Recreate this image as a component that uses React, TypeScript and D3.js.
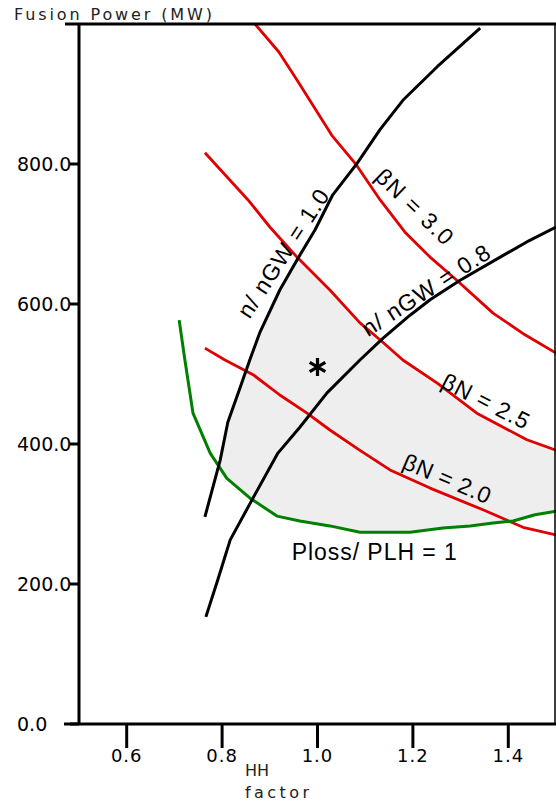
import React from "react";
import * as d3 from "d3";

// ---------- data (HH factor, fusion power MW) ----------
const xTickValues = [0.6, 0.8, 1.0, 1.2, 1.4];
const xTickLabels = ["0.6", "0.8", "1.0", "1.2", "1.4"];
const yTickValues = [0, 200, 400, 600, 800];
const yTickLabels = ["0.0", "200.0", "400.0", "600.0", "800.0"];

const betaN30: [number, number][] = [
  [0.869, 1000], [0.919, 960], [0.957, 920], [1.03, 841], [1.079, 801], [1.131, 749],
  [1.183, 703], [1.236, 667], [1.292, 634], [1.368, 587], [1.435, 556], [1.5, 530],
];
const betaN25: [number, number][] = [
  [0.764, 816], [0.854, 749], [0.9, 710], [0.957, 667], [1.026, 620], [1.089, 573],
  [1.131, 549], [1.179, 520], [1.251, 487], [1.334, 444], [1.439, 406], [1.5, 391],
];
const betaN20: [number, number][] = [
  [0.764, 537], [0.806, 520], [0.865, 499], [0.921, 470], [0.978, 444], [1.026, 420],
  [1.089, 391], [1.152, 363], [1.236, 337], [1.347, 306], [1.431, 281], [1.5, 270],
];
const nGW10: [number, number][] = [
  [0.764, 296], [0.796, 377], [0.812, 431], [0.838, 481], [0.858, 520], [0.879, 559],
  [0.921, 620], [0.957, 663], [0.995, 706], [1.032, 756], [1.083, 801], [1.131, 849],
  [1.179, 891], [1.251, 939], [1.341, 994],
];
const nGW08: [number, number][] = [
  [0.766, 153], [0.791, 206], [0.817, 263], [0.865, 323], [0.917, 387], [0.963, 424],
  [1.02, 473], [1.089, 520], [1.137, 551], [1.194, 584], [1.236, 606], [1.299, 634],
  [1.383, 667], [1.445, 691], [1.5, 710],
];
const plossPLH1: [number, number][] = [
  [0.71, 577], [0.722, 520], [0.739, 444], [0.775, 387], [0.81, 351], [0.858, 323],
  [0.915, 297], [0.963, 290], [1.026, 283], [1.089, 274], [1.194, 274], [1.263, 280],
  [1.32, 283], [1.368, 287], [1.41, 290], [1.456, 299], [1.5, 304],
];
const operatingPoint: [number, number] = [1.0, 510];

const labelTexts = ["n/ nGW = 1.0", "n/ nGW = 0.8", "\u03B2N = 3.0", "\u03B2N = 2.5", "\u03B2N = 2.0", "Ploss/ PLH = 1"];
const labelX = [0.942, 1.236, 1.192, 1.345, 1.265, 1.119];
const labelY = [666, 610, 731, 451, 340, 234];
const labelAngle = [-57, -33, 44, 27, 23, 0];
const labelLen = [148, 148, 98, 95, 93, 165];

// ---------- layout ----------
const W = 556;
const H = 805;
const x = d3.scaleLinear().domain([0.5, 1.5]).range([79, 556]);
const y = d3.scaleLinear().domain([0, 1000]).range([724, 24]);

const RED = "#e00000";
const GREEN = "#008000";
const AXFONT = "'DejaVu Sans', Verdana, sans-serif";
const LBLFONT = "'Liberation Sans', Arial, Helvetica, sans-serif";

export default function App() {
  const line = d3.line<[number, number]>().x((d) => x(d[0])).y((d) => y(d[1]));
  const belowB25 = d3.area<[number, number]>().x((d) => x(d[0])).y0(y(0)).y1((d) => y(d[1]));
  const aboveGreen = d3.area<[number, number]>().x((d) => x(d[0])).y0(y(1000)).y1((d) => y(d[1]));
  const star = d3.symbol().type(d3.symbolAsterisk).size(230)();

  const x0 = x(0.5);
  const x1 = x(1.5);
  const yTop = y(1000);
  const yBot = y(0);

  // region to the right of the n/nGW = 1.0 curve (extended down to the axis)
  const n10Path = d3.path();
  n10Path.moveTo(x1, yTop);
  n10Path.lineTo(x1, yBot);
  n10Path.lineTo(x(nGW10[0][0]), yBot);
  nGW10.forEach((d) => n10Path.lineTo(x(d[0]), y(d[1])));
  n10Path.lineTo(x(nGW10[nGW10.length - 1][0]), yTop);
  n10Path.closePath();

  return (
    <svg
      width={W}
      height={H}
      style={{ position: "absolute", left: 0, top: 0, background: "#fff" }}
    >
      <defs>
        <clipPath id="cB25">
          <path d={belowB25(betaN25) || ""} />
        </clipPath>
        <clipPath id="cGreen">
          <path d={aboveGreen(plossPLH1) || ""} />
        </clipPath>
        <clipPath id="cN10">
          <path d={n10Path.toString()} />
        </clipPath>
        <clipPath id="plot">
          <rect x={x0} y={yTop} width={x1 - x0} height={yBot - yTop} />
        </clipPath>
      </defs>

      {/* shaded operating window */}
      <g clipPath="url(#cB25)">
        <g clipPath="url(#cGreen)">
          <rect
            x={x0}
            y={yTop}
            width={x1 - x0}
            height={yBot - yTop}
            fill="#eeeeee"
            clipPath="url(#cN10)"
          />
        </g>
      </g>

      <g clipPath="url(#plot)" fill="none" strokeLinejoin="round">
        <path d={line(betaN30) || ""} stroke={RED} strokeWidth={2.8} />
        <path d={line(betaN25) || ""} stroke={RED} strokeWidth={2.8} />
        <path d={line(betaN20) || ""} stroke={RED} strokeWidth={2.8} />
        <path d={line(plossPLH1) || ""} stroke={GREEN} strokeWidth={3} />
        <path d={line(nGW10) || ""} stroke="#000" strokeWidth={3} />
        <path d={line(nGW08) || ""} stroke="#000" strokeWidth={3} />
      </g>

      <path
        d={star || ""}
        transform={`translate(${x(operatingPoint[0])},${y(operatingPoint[1])})`}
        stroke="#000"
        strokeWidth={3.2}
        fill="none"
      />

      {/* frame / axes */}
      <line x1={65} x2={W} y1={yTop} y2={yTop} stroke="#000" strokeWidth={3} />
      <line x1={64} x2={W} y1={yBot} y2={yBot} stroke="#000" strokeWidth={3} />
      <line x1={x0} x2={x0} y1={yTop} y2={yBot} stroke="#000" strokeWidth={3} />
      <line x1={x1 - 1} x2={x1 - 1} y1={yTop} y2={yBot} stroke="#000" strokeWidth={1.5} />

      {yTickValues.map((v, i) => (
        <g key={"yt" + i}>
          <text
            x={17}
            y={y(v) + 7}
            textAnchor="start"
            fontFamily={AXFONT}
            fontSize={19}
            fill="#000"
          >
            {yTickLabels[i]}
          </text>
          <line x1={70} x2={x0} y1={y(v)} y2={y(v)} stroke="#000" strokeWidth={3} />
        </g>
      ))}

      {xTickValues.map((v, i) => (
        <g key={"xt" + i}>
          <line x1={x(v)} x2={x(v)} y1={yBot} y2={yBot + 24} stroke="#000" strokeWidth={3} />
          <text
            x={x(v)}
            y={yBot + 38}
            textAnchor="middle"
            fontFamily={AXFONT}
            fontSize={18}
            letterSpacing={1}
            fill="#000"
          >
            {xTickLabels[i]}
          </text>
        </g>
      ))}

      <text x={14} y={20} fontFamily={AXFONT} fontSize={16} textLength={198} lengthAdjust="spacing" fill="#222">
        Fusion Power (MW)
      </text>
      <text x={245} y={776} fontFamily={AXFONT} fontSize={16} fill="#222">
        HH
      </text>
      <text x={245} y={798} fontFamily={AXFONT} fontSize={16} textLength={64} lengthAdjust="spacing" fill="#222">
        factor
      </text>

      {labelTexts.map((t, i) => {
        const px = x(labelX[i]);
        const py = y(labelY[i]);
        return (
          <text
            key={"lb" + i}
            x={px}
            y={py}
            textAnchor="middle"
            fontFamily={LBLFONT}
            fontSize={23}
            textLength={labelLen[i]}
            lengthAdjust="spacing"
            transform={`rotate(${labelAngle[i]},${px},${py})`}
            fill="#000"
            style={{ whiteSpace: "pre" }}
          >
            {t}
          </text>
        );
      })}
    </svg>
  );
}
